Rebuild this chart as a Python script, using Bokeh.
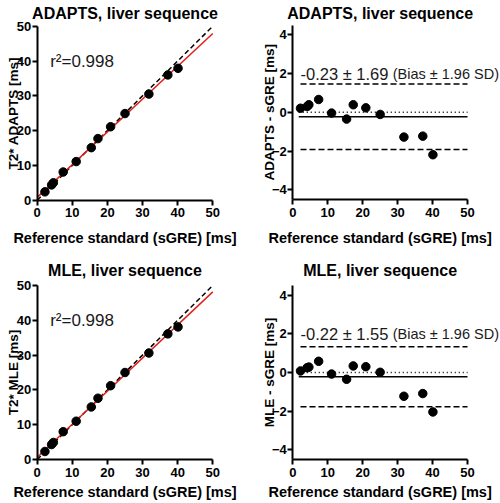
import math
import numpy as np
from bokeh.plotting import figure
from bokeh.layouts import column, row
from bokeh.models import Range1d, FixedTicker, Label
from bokeh.embed import file_html
from bokeh.resources import INLINE

# ---------------- data ----------------
sgre = [2.2, 4.1, 4.6, 7.4, 11.1, 15.4, 17.3, 20.9, 25.0, 31.8, 37.2, 40.1]
adapts = [2.4, 4.4, 5.0, 8.1, 11.1, 15.1, 17.7, 21.1, 24.9, 30.5, 36.0, 37.9]
mle = [2.3, 4.3, 4.9, 8.0, 11.0, 15.1, 17.6, 21.2, 25.0, 30.6, 36.1, 38.1]
adapts_diff = [0.21, 0.30, 0.39, 0.66, -0.04, -0.35, 0.39, 0.23, -0.11, -1.28, -1.23, -2.19]
mle_diff = [0.08, 0.25, 0.28, 0.58, -0.08, -0.35, 0.34, 0.30, 0.01, -1.23, -1.09, -2.04]
adapts_bias, adapts_loa = -0.23, 1.69
mle_bias, mle_loa = -0.22, 1.55
r2_adapts, r2_mle = 0.998, 0.998
x_ticks = [0, 10, 20, 30, 40, 50]
y_ticks_corr = [0, 10, 20, 30, 40, 50]
y_ticks_ba = [-4, -2, 0, 2, 4]
x_lim = (0, 50)
corr_lim = (0, 50)
ba_lim = (-4.5, 4.5)

FONT = "Liberation Sans"
XLABEL = "Reference standard (sGRE) [ms]"
TXT = "#1a1a1a"


class Panel:
    """A figure whose frame fills the whole canvas; the data box is placed by page pixels."""

    def __init__(self, ox, oy, w, h, bx0, bx1, by0, by1, xlim, ylim):
        self.bx0, self.by1 = bx0, by1
        self.xa, self.ya = xlim[0], ylim[0]
        self.sx = (bx1 - bx0) / (xlim[1] - xlim[0])
        self.sy = (by1 - by0) / (ylim[1] - ylim[0])
        xr = Range1d(xlim[0] - (bx0 - ox) / self.sx, xlim[0] + (ox + w - bx0) / self.sx)
        yr = Range1d(ylim[0] - (oy + h - by1) / self.sy, ylim[0] + (by1 - oy) / self.sy)
        p = figure(width=w, height=h, output_backend="svg", toolbar_location=None,
                   x_range=xr, y_range=yr, min_border=0, min_border_left=0,
                   min_border_right=0, min_border_top=0, min_border_bottom=0)
        p.outline_line_color = None
        p.grid.visible = False
        p.background_fill_color = "white"
        p.border_fill_color = "white"
        p.xaxis.fixed_location = ylim[0]
        p.yaxis.fixed_location = xlim[0]
        p.xaxis.bounds = xlim
        p.yaxis.bounds = ylim
        for ax in (p.xaxis, p.yaxis):
            ax.axis_line_width = 2
            ax.axis_line_color = "black"
            ax.major_tick_line_width = 2
            ax.major_tick_line_color = "black"
            ax.major_tick_out = 5
            ax.major_tick_in = 0
            ax.minor_tick_line_color = None
            ax.major_label_text_font = FONT
            ax.major_label_text_font_size = "13px"
            ax.major_label_text_font_style = "bold"
            ax.major_label_text_color = "black"
        p.xaxis.major_label_standoff = 3
        p.yaxis.major_label_standoff = 1
        self.p = p

    def dx(self, page_x):
        return self.xa + (page_x - self.bx0) / self.sx

    def dy(self, page_y):
        return self.ya + (self.by1 - page_y) / self.sy

    def text(self, s, page_x, page_y, size, bold=False, align="left", angle=0.0, color="black"):
        self.p.add_layout(Label(x=self.dx(page_x), y=self.dy(page_y), text=s,
                                text_font=FONT, text_font_size=size,
                                text_font_style="bold" if bold else "normal",
                                text_color=color, text_align=align,
                                text_baseline="alphabetic", angle=angle))


def frame_texts(pn, title, ylabel, bx0, bx1, by0, by1, title_base, ylab_x, xlab_gap):
    cx = (bx0 + bx1) / 2
    cy = (by0 + by1) / 2
    pn.text(title, cx, title_base, "16px", bold=True, align="center")
    pn.text(XLABEL, cx, by1 + xlab_gap, "14.5px", bold=True, align="center")
    pn.text(ylabel, ylab_x, cy, "13.5px", bold=True, align="center", angle=math.pi / 2)


def corr_panel(title, yvals, ylabel, r2, ox, oy, w, h, by0, by1, title_base, xlab_gap):
    bx0, bx1 = 36.7, 212.3
    pn = Panel(ox, oy, w, h, bx0, bx1, by0, by1, x_lim, corr_lim)
    p = pn.p
    p.xaxis.ticker = FixedTicker(ticks=x_ticks)
    p.yaxis.ticker = FixedTicker(ticks=y_ticks_corr)
    p.line(list(x_lim), list(corr_lim), line_color="black", line_width=1.5, line_dash="5 3")
    slope, icpt = np.polyfit(sgre, yvals, 1)
    xs = np.array(x_lim)
    p.line(xs, icpt + slope * xs, line_color="#e0201b", line_width=1.5)
    p.scatter(sgre, yvals, size=8.5, color="black")
    p.add_layout(Label(x=3.7, y=40.0, text=f"r²={r2:.3f}", text_font=FONT,
                       text_font_size="17px", text_color=TXT, text_baseline="alphabetic"))
    frame_texts(pn, title, ylabel, bx0, bx1, by0, by1, title_base, 13, xlab_gap)
    return p


def ba_panel(title, diffs, ylabel, bias, loa, ox, oy, w, h, by0, by1, title_base, xlab_gap):
    bx0, bx1 = 292.3, 467.0
    pn = Panel(ox, oy, w, h, bx0, bx1, by0, by1, x_lim, ba_lim)
    p = pn.p
    p.xaxis.ticker = FixedTicker(ticks=x_ticks)
    p.yaxis.ticker = FixedTicker(ticks=y_ticks_ba)
    x0 = min(sgre)
    p.line([x0 - 0.5, x_lim[1]], [0, 0], line_color="black", line_width=1.5, line_dash="1 3")
    p.line([x0 - 0.5, x_lim[1]], [bias, bias], line_color="black", line_width=1.5)
    p.line([x0, x_lim[1]], [bias + loa, bias + loa], line_color="black", line_width=1.5, line_dash="6 3")
    p.line([x0, x_lim[1]], [bias - loa, bias - loa], line_color="black", line_width=1.5, line_dash="6 3")
    p.scatter(sgre, diffs, size=8.5, color="black")
    p.add_layout(Label(x=2.2, y=2.0, text=f"{bias:.2f} ± {loa:.2f}", text_font=FONT,
                       text_font_size="16.5px", text_color=TXT, text_baseline="alphabetic"))
    p.add_layout(Label(x=28.6, y=2.0, text="(Bias ± 1.96 SD)", text_font=FONT,
                       text_font_size="14.5px", text_color=TXT, text_baseline="alphabetic"))
    frame_texts(pn, title, ylabel, bx0, bx1, by0, by1, title_base, 269, xlab_gap)
    return p


a = corr_panel("ADAPTS, liver sequence", adapts, "T2* ADAPTS [ms]", r2_adapts,
               0, 0, 250, 250, 25.7, 199.7, 12.5, 38)
b = ba_panel("ADAPTS, liver sequence", adapts_diff, "ADAPTS - sGRE [ms]", adapts_bias, adapts_loa,
             250, 0, 250, 250, 24.6, 199.0, 12.5, 38.7)
c = corr_panel("MLE, liver sequence", mle, "T2* MLE [ms]", r2_mle,
               0, 250, 250, 253, 285.0, 459.0, 270.0, 32.5)
d = ba_panel("MLE, liver sequence", mle_diff, "MLE - sGRE [ms]", mle_bias, mle_loa,
             250, 250, 250, 253, 285.0, 459.0, 270.0, 32.5)

layout = column(row(a, b), row(c, d))
open("out.html", "w").write(file_html(layout, INLINE))
